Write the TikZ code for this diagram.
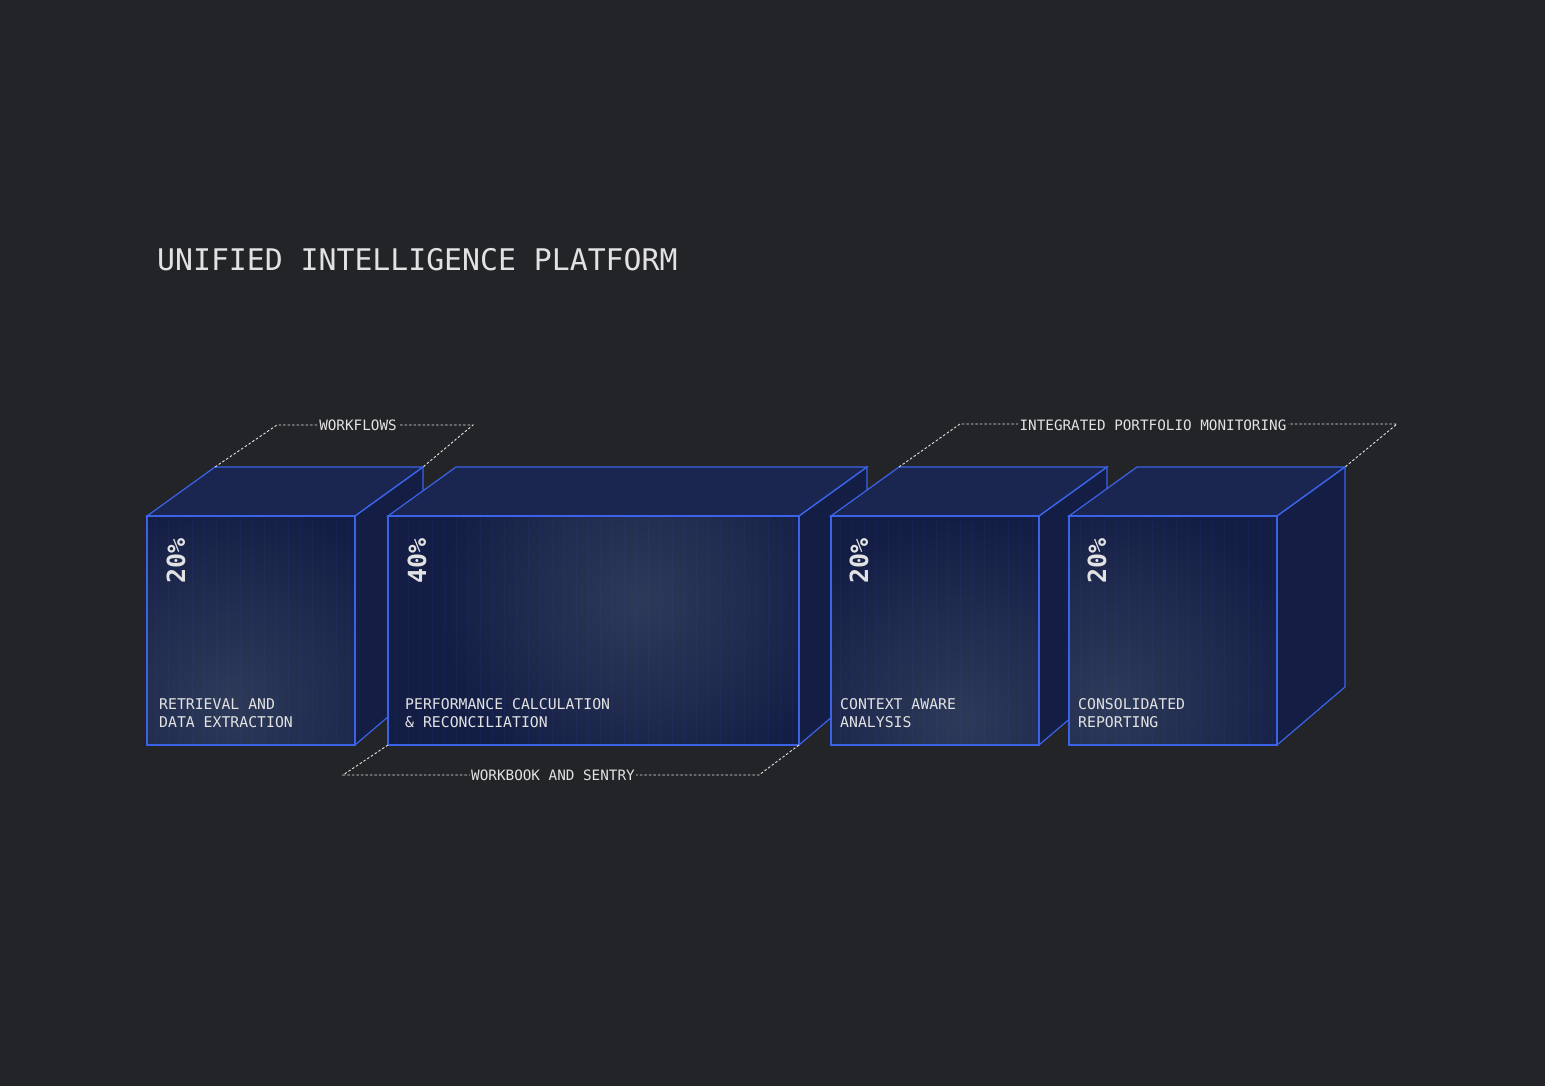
\documentclass[tikz,border=0pt]{standalone}
\usepackage{fontspec}
\setmonofont{DejaVu Sans Mono}
\definecolor{bg}{HTML}{232428}
\definecolor{edge}{HTML}{3A63E8}
\definecolor{navy}{HTML}{141E45}
\definecolor{navyb}{HTML}{1A2550}
\definecolor{glow}{HTML}{2E3A58}
\definecolor{txt}{HTML}{E2E2E2}
\tikzset{
  face/.style={draw=edge,line width=1.2pt,line join=miter},
  lbl/.style={text=txt,font=\ttfamily\fontsize{14.8}{18}\selectfont,anchor=base west,inner sep=0},
  pct/.style={text=txt,font=\ttfamily\bfseries\fontsize{25}{25}\selectfont,rotate=90,anchor=base west,inner sep=0},
  dline/.style={draw=txt,dash pattern=on 2.5pt off 2pt,line width=0.9pt},
  tag/.style={text=txt,fill=bg,font=\ttfamily\fontsize{14.3}{14}\selectfont,inner sep=1.5pt}
}
\newcommand\mycube[4]{% x1 x2 glowx glowy
  \fill[navyb] (#1+68,467) -- (#2+68,467) -- (#2,516) -- (#1,516) -- cycle;
  \fill[navy] (#2,516) -- (#2+68,467) -- (#2+68,687) -- (#2,745) -- cycle;
  \begin{scope}
    \clip (#1,516) rectangle (#2,745);
    \fill[navy] (#1,516) rectangle (#2,745);
    \shade[inner color=glow,outer color=navy] (#3-200,#4-200) rectangle (#3+200,#4+200);
    \draw[edge,opacity=0.07,line width=0.4pt,step=12] (#1,516) grid (#2,745);
  \end{scope}
  \draw[face] (#1+68,467) -- (#2+68,467) -- (#2,516) -- (#1,516) -- cycle;
  \draw[face] (#2,516) -- (#2+68,467) -- (#2+68,687) -- (#2,745) -- cycle;
  \draw[face] (#1,516) rectangle (#2,745);
}
\begin{document}
\begin{tikzpicture}[x=1pt,y=-1pt]
\fill[bg] (0,0) rectangle (1545,1086);
\useasboundingbox (0,0) rectangle (1545,1086);
\node[text=txt,font=\ttfamily\fontsize{29.8}{30}\selectfont,anchor=base west,inner sep=0] (title) at (157,270) {UNIFIED INTELLIGENCE PLATFORM};

\mycube{147}{355}{230}{700}
\mycube{388}{799}{640}{600}
\mycube{831}{1039}{960}{720}
\mycube{1069}{1277}{1110}{700}

\coordinate (w1) at (215,467); \coordinate (w2) at (277,425);
\coordinate (w3) at (473,425); \coordinate (w4) at (423,467);
\draw[dline] (w1) -- (w2) -- (w3) -- (w4);
\node[tag] (wf) at (358,425) {WORKFLOWS};

\coordinate (i1) at (899,467); \coordinate (i2) at (960,424);
\coordinate (i3) at (1397,424); \coordinate (i4) at (1345,467);
\draw[dline] (i1) -- (i2) -- (i3) -- (i4);
\node[tag] (ipm) at (1153,425) {INTEGRATED PORTFOLIO MONITORING};

\coordinate (b1) at (388,745); \coordinate (b2) at (343,775);
\coordinate (b3) at (759,775); \coordinate (b4) at (799,745);
\draw[dline] (b1) -- (b2) -- (b3) -- (b4);
\node[tag] (wb) at (553,775) {WORKBOOK AND SENTRY};

\node[pct] (p1) at (185,584) {20\%};
\node[pct] (p2) at (426,584) {40\%};
\node[pct] (p3) at (868,584) {20\%};
\node[pct] (p4) at (1106,584) {20\%};

\node[lbl] (l1a) at (159,709) {RETRIEVAL AND};
\node[lbl] (l1b) at (159,727) {DATA EXTRACTION};
\node[lbl] (l2a) at (405,709) {PERFORMANCE CALCULATION};
\node[lbl] (l2b) at (405,727) {\& RECONCILIATION};
\node[lbl] (l3a) at (840,709) {CONTEXT AWARE};
\node[lbl] (l3b) at (840,727) {ANALYSIS};
\node[lbl] (l4a) at (1078,709) {CONSOLIDATED};
\node[lbl] (l4b) at (1078,727) {REPORTING};
\end{tikzpicture}
\end{document}
